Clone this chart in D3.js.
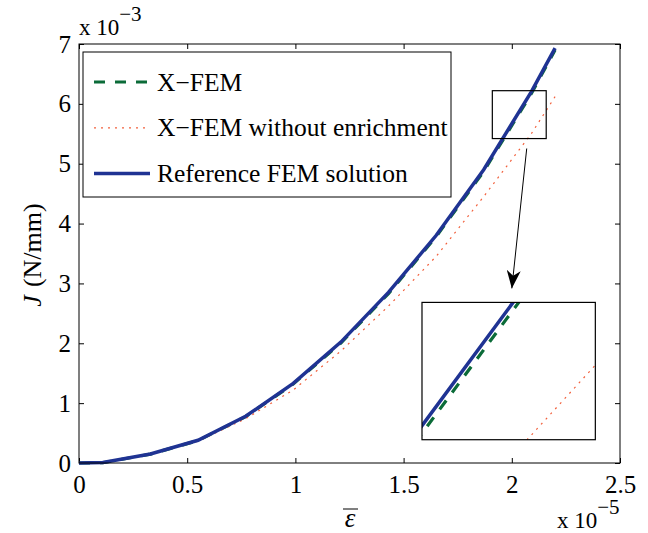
<!DOCTYPE html>
<html>
<head>
<meta charset="utf-8">
<script src="https://cdn.jsdelivr.net/npm/d3@7"></script>
<style>
  body { margin: 0; background: #fff; }
  svg text { font-family: "Liberation Serif", "Times New Roman", serif !important; }
  .axis path { display: none; }
  .axis line { stroke: #000; }
  .axis text { font-size: 25px; fill: #000; }
</style>
</head>
<body>
<div id="chart"></div>
<script>
// strain values (x 1e-5)
const strain = [0, 0.11, 0.33, 0.55, 0.77, 0.99, 1.21, 1.43, 1.65, 1.87, 2.09, 2.2];
// J values (x 1e-3 N/mm)
const jXfem      = [0, 0.005, 0.148, 0.375, 0.775, 1.32, 2.005, 2.83, 3.78, 4.87, 6.17, 6.9];
const jNoEnrich  = [0, 0.005, 0.145, 0.365, 0.74, 1.22, 1.87, 2.62, 3.45, 4.45, 5.5, 6.12];
const jReference = [0, 0.01, 0.15, 0.38, 0.78, 1.33, 2.02, 2.85, 3.8, 4.9, 6.2, 6.93];

const xTicks = [0, 0.5, 1, 1.5, 2, 2.5];
const yTicks = [0, 1, 2, 3, 4, 5, 6, 7];

const seriesNames = ["X\u2212FEM", "X\u2212FEM without enrichment", "Reference FEM solution"];
const seriesData = [jXfem, jNoEnrich, jReference];

// zoomed window (data units)
const zoomWindowX = [1.91, 2.159];
const zoomWindowY = [5.42, 6.22];
const insetDomainX = [1.92, 2.076];
const insetDomainY = [5.14, 5.68];
// inset placement in main data units
const insetBoxX = [1.585, 2.386];
const insetBoxY = [0.389, 2.683];
// arrow from / to (data units)
const arrowFrom = [2.069, 5.254];
const arrowTo = [2.0, 2.917];

const styles = [
  { color: "#0b6b38", width: 3.2, dash: "11,10" },
  { color: "#f2603c", width: 1.2, dash: "2,5" },
  { color: "#1f3393", width: 3.5, dash: null }
];

const width = 648, height = 533;
const margin = { top: 44, right: 28, bottom: 70, left: 79 };
const plotW = width - margin.left - margin.right;
const plotH = height - margin.top - margin.bottom;

const svg = d3.select("#chart").append("svg")
  .attr("width", width)
  .attr("height", height);

const xScale = d3.scaleLinear().domain([0, 2.5]).range([0, plotW]);
const yScale = d3.scaleLinear().domain([0, 7]).range([plotH, 0]);

const g = svg.append("g").attr("transform", `translate(${margin.left},${margin.top})`);

// axes with inward ticks
g.append("g").attr("class", "axis")
  .attr("transform", `translate(0,${plotH})`)
  .call(d3.axisBottom(xScale).tickValues(xTicks).tickSizeInner(-5).tickSizeOuter(0).tickPadding(12).tickFormat(d3.format("")));
g.append("g").attr("class", "axis")
  .call(d3.axisTop(xScale).tickValues(xTicks).tickSizeInner(-5).tickSizeOuter(0).tickFormat(""));
g.append("g").attr("class", "axis")
  .call(d3.axisLeft(yScale).tickValues(yTicks).tickSizeInner(-5).tickSizeOuter(0).tickPadding(8).tickFormat(d3.format("")));
g.append("g").attr("class", "axis")
  .attr("transform", `translate(${plotW},0)`)
  .call(d3.axisRight(yScale).tickValues(yTicks).tickSizeInner(-5).tickSizeOuter(0).tickFormat(""));

// curves
function drawCurves(parent, xs, ys) {
  seriesData.forEach((vals, i) => {
    const line = d3.line().x((d, k) => xs(strain[k])).y(d => ys(d));
    parent.append("path")
      .datum(vals)
      .attr("d", line)
      .attr("fill", "none")
      .attr("stroke", styles[i].color)
      .attr("stroke-width", styles[i].width)
      .attr("stroke-dasharray", styles[i].dash);
  });
}
drawCurves(g, xScale, yScale);

// box
g.append("rect")
  .attr("width", plotW).attr("height", plotH)
  .attr("fill", "none").attr("stroke", "#000").attr("stroke-width", 1);

// zoom window rectangle
g.append("rect")
  .attr("x", xScale(zoomWindowX[0]))
  .attr("y", yScale(zoomWindowY[1]))
  .attr("width", xScale(zoomWindowX[1]) - xScale(zoomWindowX[0]))
  .attr("height", yScale(zoomWindowY[0]) - yScale(zoomWindowY[1]))
  .attr("fill", "none").attr("stroke", "#000").attr("stroke-width", 1.2);

// arrow
svg.append("defs").append("marker")
  .attr("id", "arrowhead")
  .attr("viewBox", "0 0 10 10")
  .attr("refX", 10).attr("refY", 5)
  .attr("markerWidth", 18).attr("markerHeight", 14)
  .attr("markerUnits", "userSpaceOnUse")
  .attr("orient", "auto")
  .attr("preserveAspectRatio", "none")
  .append("path")
  .attr("d", "M0,0 L10,5 L0,10 L3,5 Z")
  .attr("fill", "#000");

g.append("line")
  .attr("x1", xScale(arrowFrom[0])).attr("y1", yScale(arrowFrom[1]))
  .attr("x2", xScale(arrowTo[0])).attr("y2", yScale(arrowTo[1]))
  .attr("stroke", "#000").attr("stroke-width", 1)
  .attr("marker-end", "url(#arrowhead)");

// inset
const ix0 = xScale(insetBoxX[0]), ix1 = xScale(insetBoxX[1]);
const iy0 = yScale(insetBoxY[1]), iy1 = yScale(insetBoxY[0]);
const inset = g.append("g").attr("transform", `translate(${ix0},${iy0})`);
const insetW = ix1 - ix0, insetH = iy1 - iy0;
inset.append("rect").attr("width", insetW).attr("height", insetH).attr("fill", "#fff");
inset.append("clipPath").attr("id", "insetClip")
  .append("rect").attr("width", insetW).attr("height", insetH);
const ixScale = d3.scaleLinear().domain(insetDomainX).range([0, insetW]);
const iyScale = d3.scaleLinear().domain(insetDomainY).range([insetH, 0]);
const insetPlot = inset.append("g").attr("clip-path", "url(#insetClip)");
drawCurves(insetPlot, ixScale, iyScale);
inset.append("rect").attr("width", insetW).attr("height", insetH)
  .attr("fill", "none").attr("stroke", "#000").attr("stroke-width", 1.2);

// legend
const legend = g.append("g").attr("transform", "translate(4,8)");
legend.append("rect")
  .attr("width", 368).attr("height", 145)
  .attr("fill", "#fff").attr("stroke", "#000").attr("stroke-width", 1);
seriesNames.forEach((name, i) => {
  const y = 30 + i * 45.8;
  legend.append("line")
    .attr("x1", 11).attr("x2", 67).attr("y1", y).attr("y2", y)
    .attr("stroke", styles[i].color)
    .attr("stroke-width", styles[i].width)
    .attr("stroke-dasharray", styles[i].dash);
  legend.append("text")
    .attr("x", 74).attr("y", y + 8.5)
    .attr("font-size", 25.5)
    .text(name);
});

// exponent labels
const yExp = svg.append("text").attr("x", 79).attr("y", 35).attr("font-size", 23);
yExp.append("tspan").text("x 10");
yExp.append("tspan").attr("dy", -14).attr("font-size", 21).text("\u22123");

const xExp = svg.append("text").attr("x", 557).attr("y", 528).attr("font-size", 23);
xExp.append("tspan").text("x 10");
xExp.append("tspan").attr("dy", -14).attr("font-size", 21).text("\u22125");

// axis labels
svg.append("text")
  .attr("x", 350).attr("y", 527)
  .attr("text-anchor", "middle")
  .attr("font-size", 27)
  .attr("font-style", "italic")
  .text("\u03b5");
svg.append("line")
  .attr("x1", 343).attr("x2", 358).attr("y1", 509).attr("y2", 509)
  .attr("stroke", "#000").attr("stroke-width", 1);

const yLab = svg.append("text")
  .attr("transform", "translate(41,255) rotate(-90)")
  .attr("text-anchor", "middle")
  .attr("font-size", 26);
yLab.append("tspan").attr("font-style", "italic").text("J");
yLab.append("tspan").attr("dx", 8).text("(N/mm)");
</script>
</body>
</html>
